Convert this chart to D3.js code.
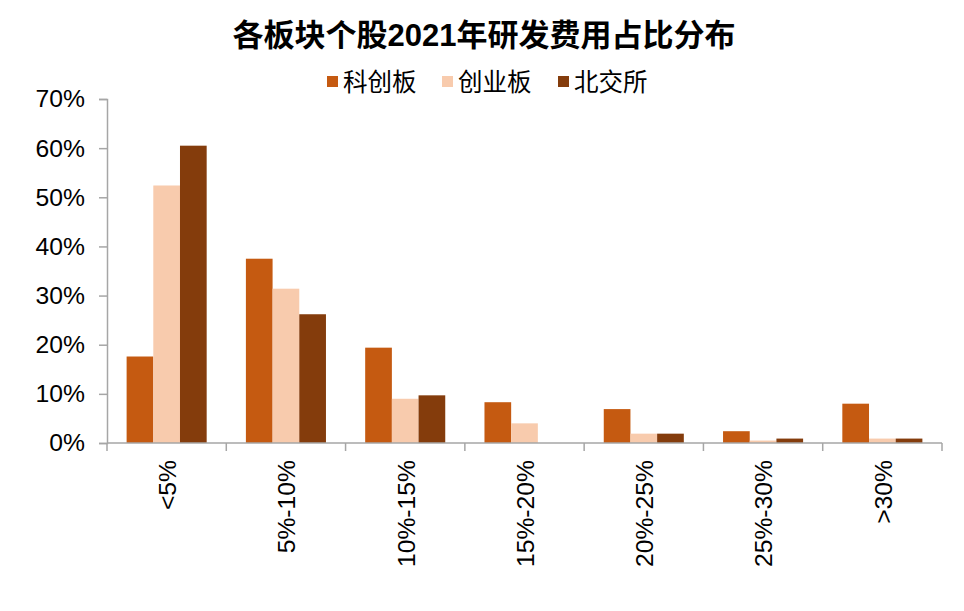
<!DOCTYPE html>
<html>
<head>
<meta charset="utf-8">
<script src="https://cdn.jsdelivr.net/npm/d3@7"></script>
<style>
	body { margin: 0; background: #fff; }
	text { font-family: "Liberation Sans", Arial, "Noto Sans CJK SC", sans-serif; }
</style>
</head>
<body>
<svg id="chart"></svg>
<script>
var categories = ["<5%", "5%-10%", "10%-15%", "15%-20%", "20%-25%", "25%-30%", ">30%"];
var seriesNames = ["科创板", "创业板", "北交所"];
var kechuang = [17.6, 37.5, 19.4, 8.3, 6.9, 2.4, 8.0];
var chuangye = [52.4, 31.4, 9.0, 4.0, 1.9, 0.5, 0.9];
var beijiao = [60.5, 26.2, 9.7, 0, 1.9, 0.9, 0.9];
var yTicks = [0, 10, 20, 30, 40, 50, 60, 70];
var title = "各板块个股2021年研发费用占比分布";

var colors = ["#C55A11", "#F8CBAD", "#843C0C"];
var w = 964;
var h = 611;
var margin = {
	left: 107,
	right: 22,
	top: 99,
	bottom: 168
}

var values = [kechuang, chuangye, beijiao];
var data = categories.map(function (c, i) {
	return {
		cat: c,
		vals: seriesNames.map(function (s, j) {
			return { name: s, value: values[j][i], color: colors[j] };
		})
	};
});

var svg = d3.select("#chart")
	.attr("width", w)
	.attr("height", h);

var xScale = d3.scaleBand()
	.domain(categories)
	.range([margin.left, w - margin.right])
	.paddingInner(0)
	.paddingOuter(0);
var x1 = d3.scaleBand()
	.domain(seriesNames)
	.range([0, xScale.bandwidth()])
	.paddingInner(0)
	.paddingOuter(0.735);
var yScale = d3.scaleLinear()
	.domain([0, 70])
	.range([h - margin.bottom, margin.top]);

// bars
var groups = svg.selectAll("g.group")
	.data(data)
	.enter()
	.append("g")
	.classed("group", true)
	.attr("transform", function (d) {
		return "translate(" + xScale(d.cat) + ",0)";
	});
groups.selectAll("rect")
	.data(function (d) { return d.vals; })
	.enter()
	.append("rect")
	.attr("x", function (d) { return x1(d.name); })
	.attr("y", function (d) { return yScale(d.value); })
	.attr("width", x1.bandwidth())
	.attr("height", function (d) { return yScale(0) - yScale(d.value); })
	.attr("fill", function (d) { return d.color; });

// axes
var yAxis = d3.axisLeft(yScale)
	.tickValues(yTicks)
	.tickSize(8)
	.tickPadding(14)
	.tickFormat(function (d) { return d + "%"; });
var gy = svg.append("g")
	.classed("yAxis", true)
	.attr("transform", "translate(" + margin.left + ",0)")
	.call(yAxis);
gy.selectAll("text")
	.attr("font-size", 24.7)
	.attr("fill", "#000");

var gx = svg.append("g")
	.classed("xAxis", true)
	.attr("transform", "translate(0," + yScale(0) + ")");
gx.append("line")
	.attr("x1", margin.left)
	.attr("x2", w - margin.right)
	.attr("y1", 0)
	.attr("y2", 0);
gx.selectAll("line.tick")
	.data(categories.concat(["end"]))
	.enter()
	.append("line")
	.classed("tick", true)
	.attr("x1", function (d, i) { return margin.left + i * xScale.step(); })
	.attr("x2", function (d, i) { return margin.left + i * xScale.step(); })
	.attr("y1", 0)
	.attr("y2", 8);
gx.selectAll("text")
	.data(categories)
	.enter()
	.append("text")
	.attr("transform", function (d) {
		return "translate(" + (xScale(d) + xScale.bandwidth() / 2) + ",17) rotate(-90)";
	})
	.attr("text-anchor", "end")
	.attr("dy", "0.38em")
	.attr("font-size", 24.7)
	.attr("fill", "#000")
	.text(function (d) { return d; });

svg.selectAll(".xAxis line, .yAxis line, .yAxis path")
	.attr("stroke", "#A6A6A6")
	.attr("stroke-width", 1.5);

// title
svg.append("text")
	.attr("x", 484)
	.attr("y", 46)
	.attr("text-anchor", "middle")
	.attr("font-size", 31)
	.attr("font-weight", "bold")
	.attr("fill", "#000")
	.text(title);

// legend
var legendX = [327, 442, 558];
var legend = svg.selectAll("g.legend")
	.data(seriesNames)
	.enter()
	.append("g")
	.classed("legend", true)
	.attr("transform", function (d, i) {
		return "translate(" + legendX[i] + ",82)";
	});
legend.append("rect")
	.attr("x", 0)
	.attr("y", -6)
	.attr("width", 11)
	.attr("height", 11)
	.attr("fill", function (d, i) { return colors[i]; });
legend.append("text")
	.attr("x", 16)
	.attr("y", 0)
	.attr("dy", "0.36em")
	.attr("font-size", 24.5)
	.attr("fill", "#000")
	.text(function (d) { return d; });
</script>
</body>
</html>
